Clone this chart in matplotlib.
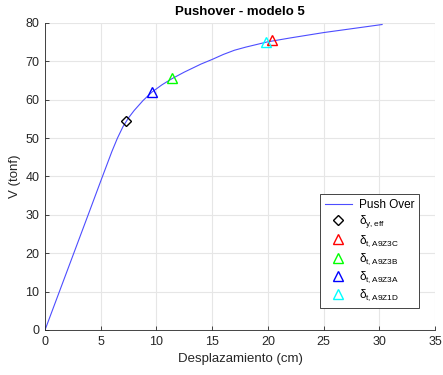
import numpy as np
import matplotlib
matplotlib.use('Agg')
import matplotlib.pyplot as plt

plt.rcParams['font.family'] = ['Liberation Sans', 'DejaVu Sans']
plt.rcParams['mathtext.fontset'] = 'custom'
plt.rcParams['mathtext.rm'] = 'Liberation Sans'
plt.rcParams['mathtext.it'] = 'Liberation Sans'
plt.rcParams['mathtext.default'] = 'regular'

# curva pushover
desp = [0, 2, 4, 5, 6, 6.5, 7, 7.5, 8, 8.8, 9.6, 10.5, 11.4, 12.5, 14, 15, 16, 17, 18, 19, 20, 22, 25, 28, 30.25]
cort = [0, 15.5, 31, 38.8, 46.5, 50.0, 53.0, 55.3, 57.2, 59.8, 62.0, 63.9, 65.5, 67.2, 69.3, 70.5, 71.8, 72.9, 73.7, 74.4, 75.1, 76.1, 77.5, 78.7, 79.6]

# puntos de desempeno
pt_x = [7.25, 20.4, 11.4, 9.6, 19.8]
pt_y = [54.4, 75.5, 65.6, 62.1, 75.1]
pt_lbl = [r'$\delta_{y,eff}$', r'$\delta_{t,A9Z3C}$', r'$\delta_{t,A9Z3B}$',
          r'$\delta_{t,A9Z3A}$', r'$\delta_{t,A9Z1D}$']
pt_mk = ['D', '^', '^', '^', '^']
pt_col = ['black', 'red', '#00ff00', 'blue', 'cyan']
pt_ms = [5.5, 7.5, 7.5, 7.5, 7.5]

fig = plt.figure(figsize=(4.43, 3.75), dpi=100)
ax = fig.add_axes([0.1016, 0.12, 0.8804, 0.8187])
ax.plot(desp, cort, color='#4d4dff', lw=0.8, label='Push Over')
for i in range(len(pt_x)):
    ax.plot(pt_x[i], pt_y[i], pt_mk[i], mfc='none', mec=pt_col[i], mew=1.0,
            ms=pt_ms[i], label=pt_lbl[i])

ax.set_xlim(0, 35)
ax.set_ylim(0, 80)
ax.set_xticks(np.arange(0, 36, 5))
ax.set_yticks(np.arange(0, 81, 10))
ax.grid(True, color='#e6e6e6', lw=0.8)
ax.set_axisbelow(True)
for s in ['top', 'right']:
    ax.spines[s].set_visible(False)
for s in ['left', 'bottom']:
    ax.spines[s].set_color('#262626')
    ax.spines[s].set_linewidth(0.6)
ax.tick_params(direction='in', length=3, labelsize=9, colors='#262626', width=0.6, pad=4)
ax.set_xlabel('Desplazamiento (cm)', fontsize=9.5, color='#262626', labelpad=4)
ax.set_ylabel('V (tonf)', fontsize=9.5, color='#262626', labelpad=3)
ax.set_title('Pushover - modelo 5', fontsize=9.5, fontweight='bold', pad=6)

leg = ax.legend(loc='lower right', bbox_to_anchor=(0.959, 0.072), fontsize=8.5,
                fancybox=False, framealpha=1, edgecolor='#262626', borderaxespad=0,
                handlelength=2.3, borderpad=0.4, labelspacing=0.22, handletextpad=0.6)
leg.get_frame().set_linewidth(0.6)

plt.savefig('out.png', dpi=100)
